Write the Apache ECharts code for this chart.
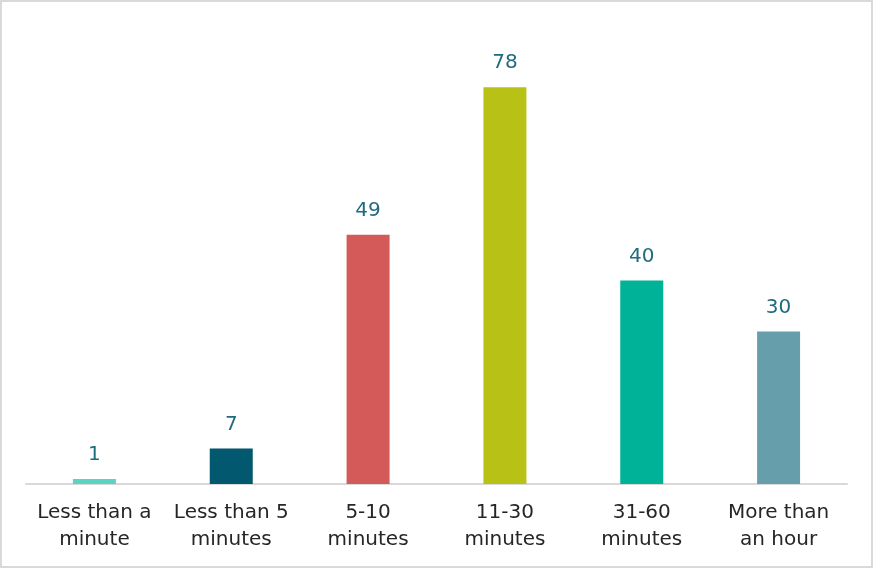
<!DOCTYPE html>
<html><head><meta charset="utf-8">
<script src="https://cdn.jsdelivr.net/npm/echarts@6/dist/echarts.min.js"></script>
<style>
html,body{margin:0;padding:0;background:#fff;}
#c{position:absolute;left:0;top:0;width:873px;height:568px;box-sizing:border-box;border:2px solid #d9d9d9;}
</style></head>
<body><div id="c"></div>
<script>
const categories = ["Less than a\nminute","Less than 5\nminutes","5-10\nminutes","11-30\nminutes","31-60\nminutes","More than\nan hour"];
const values = [1, 7, 49, 78, 40, 30];
const colors = ["#5dd4c1","#02586f","#d35a58","#b8c116","#00b398","#679eab"];

const chart = echarts.init(document.getElementById('c'), null, {renderer:'canvas'});
chart.setOption({
  animation:false,
  grid:{left:24, right:24, top:75, bottom:82},
  xAxis:{
    type:'category', data:categories,
    axisLine:{lineStyle:{color:'#d9d9d9', width:2}},
    axisTick:{show:false},
    axisLabel:{color:'#262626', fontSize:20, fontFamily:'"DejaVu Sans", sans-serif', lineHeight:27, margin:15, interval:0}
  },
  yAxis:{type:'value', min:0, max:80, show:false, splitLine:{show:false}},
  series:[{
    type:'bar', barWidth:43,
    data: values.map((v,i)=>({value:v, itemStyle:{color:colors[i]}})),
    label:{show:true, position:'top', distance:14, color:'#1f6b80', fontSize:20, fontFamily:'"DejaVu Sans", sans-serif'}
  }]
});
</script></body></html>
